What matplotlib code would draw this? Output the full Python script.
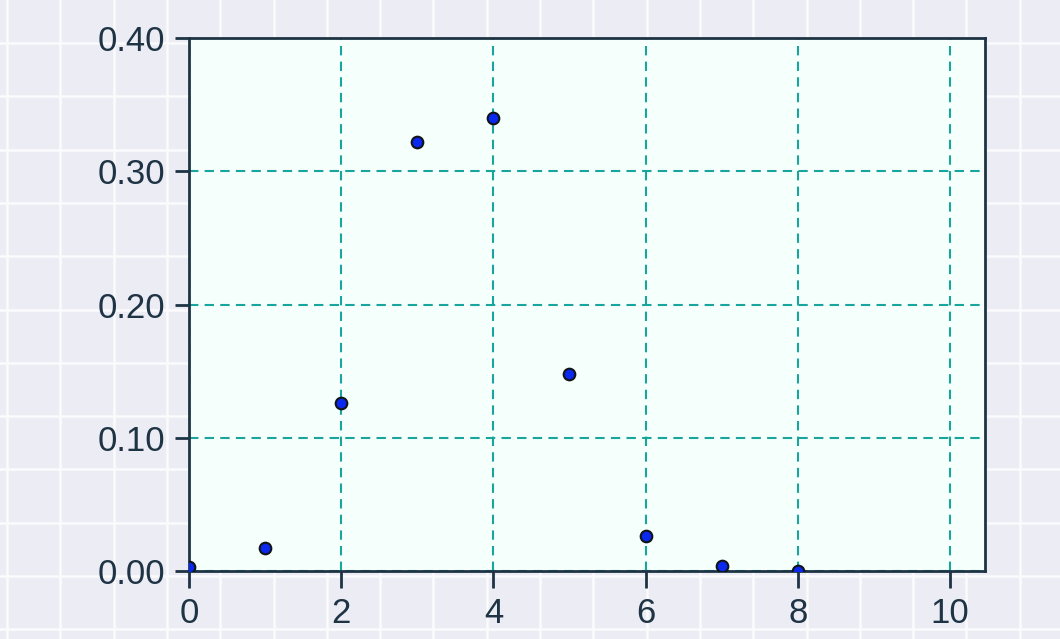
import numpy as np
import matplotlib
matplotlib.use("Agg")
import matplotlib.pyplot as plt

# Data
x_vals = [0, 1, 2, 3, 4, 5, 6, 7, 8]
y_vals = [0.003, 0.017, 0.126, 0.322, 0.340, 0.148, 0.026, 0.004, 0.0003]
x_ticks = [0, 2, 4, 6, 8, 10]
y_ticks = [0.0, 0.1, 0.2, 0.3, 0.4]
y_tick_labels = ["0.00", "0.10", "0.20", "0.30", "0.40"]

W, H = 1060, 639
fig = plt.figure(figsize=(W / 100, H / 100), dpi=100)
fig.patch.set_facecolor("#ECECF4")

# Background graph-paper pattern
bg = fig.add_axes([0, 0, 1, 1])
bg.set_xlim(0, W)
bg.set_ylim(H, 0)
bg.axis("off")
bg.set_zorder(-1)
for xv in np.arange(7, W, 53.3):
    bg.axvline(xv, color="#FBFBFD", lw=1.8)
for yv in np.arange(43, H, 53.3):
    bg.axhline(yv, color="#FBFBFD", lw=1.8)

ax = fig.add_axes([189 / W, (H - 571) / H, 796 / W, 533 / H])
ax.set_facecolor("#F5FFFC")
ax.set_xlim(0, 10.46)
ax.set_ylim(0, 0.40)

ax.grid(True, color="#1AA59C", linestyle=(0, (4.5, 3)), linewidth=1.5)
ax.set_axisbelow(True)

ax.scatter(x_vals, y_vals, s=70, color="#0A28F0", edgecolors="#101418",
           linewidths=1.5, zorder=3, clip_on=True)

ax.set_xticks(x_ticks)
ax.set_xticklabels([str(t) for t in x_ticks])
ax.set_yticks(y_ticks)
ax.set_yticklabels(y_tick_labels)

spine_color = "#1E3344"
for s in ax.spines.values():
    s.set_color(spine_color)
    s.set_linewidth(2.0)

ax.tick_params(axis="y", length=10, width=2, color=spine_color, pad=7,
               labelsize=25, labelcolor="#1E3344")
ax.tick_params(axis="x", length=12, width=2, color=spine_color, pad=7,
               labelsize=25, labelcolor="#1E3344")
for lab in ax.get_xticklabels() + ax.get_yticklabels():
    lab.set_fontfamily("Liberation Sans")

fig.savefig("out.png", dpi=100, facecolor=fig.get_facecolor())
